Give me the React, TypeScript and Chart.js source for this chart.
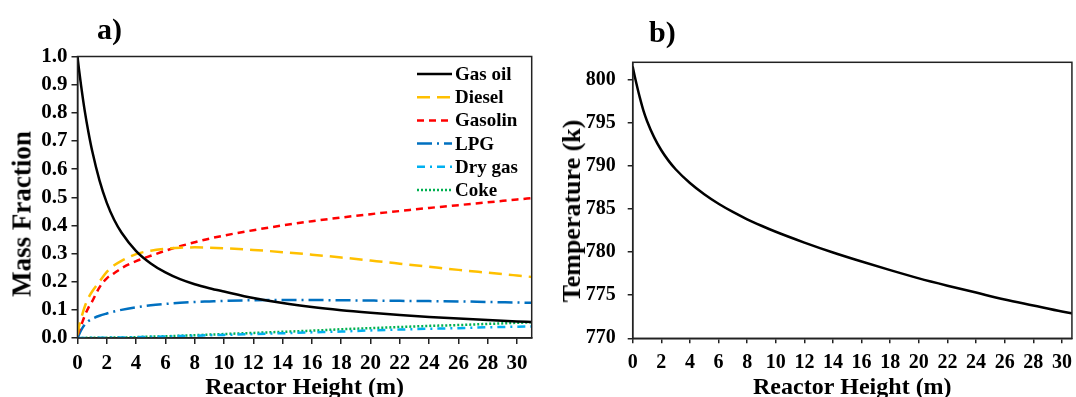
import React, { useEffect, useRef } from "react";
import { Chart, registerables } from "chart.js";
Chart.register(...registerables);

// ---------- data ----------
const heights = [0, 0.1, 0.25, 0.5, 0.75, 1, 1.5, 2, 2.5, 3, 4, 5, 6, 7, 8, 9, 10, 12, 14, 16, 18, 20, 22, 24, 26, 28, 30, 31];
const gasOil = [1.0, 0.955, 0.895, 0.805, 0.73, 0.665, 0.56, 0.48, 0.42, 0.375, 0.309, 0.265, 0.233, 0.209, 0.191, 0.177, 0.165, 0.142, 0.124, 0.11, 0.099, 0.09, 0.082, 0.075, 0.069, 0.064, 0.059, 0.057];
const diesel = [0.01, 0.04, 0.07, 0.112, 0.143, 0.165, 0.2, 0.235, 0.258, 0.274, 0.298, 0.31, 0.317, 0.321, 0.322, 0.321, 0.319, 0.313, 0.305, 0.296, 0.286, 0.275, 0.264, 0.253, 0.242, 0.232, 0.222, 0.217];
const gasolin = [0.01, 0.025, 0.045, 0.08, 0.108, 0.13, 0.18, 0.212, 0.23, 0.248, 0.273, 0.292, 0.31, 0.326, 0.34, 0.353, 0.364, 0.383, 0.4, 0.415, 0.428, 0.44, 0.451, 0.462, 0.472, 0.482, 0.492, 0.497];
const lpg = [0, 0.012, 0.028, 0.048, 0.06, 0.068, 0.079, 0.087, 0.094, 0.1, 0.109, 0.116, 0.121, 0.125, 0.128, 0.13, 0.132, 0.134, 0.135, 0.135, 0.134, 0.133, 0.132, 0.131, 0.13, 0.128, 0.126, 0.125];
const dryGas = [0, 0, 0, 0, 0.001, 0.001, 0.001, 0.001, 0.002, 0.002, 0.003, 0.004, 0.005, 0.007, 0.008, 0.01, 0.011, 0.014, 0.017, 0.02, 0.023, 0.027, 0.03, 0.033, 0.035, 0.038, 0.04, 0.041];
const coke = [0, 0, 0, 0, 0.001, 0.001, 0.001, 0.001, 0.002, 0.002, 0.003, 0.005, 0.006, 0.008, 0.01, 0.012, 0.014, 0.018, 0.022, 0.026, 0.031, 0.035, 0.039, 0.043, 0.046, 0.05, 0.054, 0.056];
const temperature = [801.5, 800.7, 799.6, 797.9, 796.4, 795.2, 793.3, 791.8, 790.6, 789.6, 788.0, 786.7, 785.6, 784.65, 783.8, 783.05, 782.35, 781.1, 779.95, 778.9, 777.9, 776.95, 776.1, 775.3, 774.5, 773.8, 773.1, 772.8];

const heightTicks = [0, 2, 4, 6, 8, 10, 12, 14, 16, 18, 20, 22, 24, 26, 28, 30];
const massTicks = [0, 0.1, 0.2, 0.3, 0.4, 0.5, 0.6, 0.7, 0.8, 0.9, 1.0];
const tempTicks = [770, 775, 780, 785, 790, 795, 800];

const seriesNames = ["Gas oil", "Diesel", "Gasolin", "LPG", "Dry gas", "Coke"];
const seriesValues = [gasOil, diesel, gasolin, lpg, dryGas, coke];
const seriesColors = ["#000000", "#FFC000", "#FF0000", "#0070C0", "#00B0F0", "#00B050"];
const seriesDashes: number[][] = [[], [13, 7], [7, 5], [15, 5, 2, 5], [8, 5, 2, 5], [2, 2]];

const FONT = '"Liberation Serif", "Times New Roman", serif';

const toPoints = (ys: number[]) => heights.map((x, i) => ({ x, y: ys[i] }));

const boxPlugin = {
  id: "boxBorder",
  afterDraw(chart: any) {
    const { ctx, chartArea } = chart;
    ctx.save();
    ctx.strokeStyle = "#222";
    ctx.lineWidth = 1.5;
    ctx.strokeRect(chartArea.left, chartArea.top, chartArea.right - chartArea.left, chartArea.bottom - chartArea.top);
    ctx.restore();
  },
};

const legendPlugin = {
  id: "insideLegend",
  afterDraw(chart: any) {
    const { ctx } = chart;
    ctx.save();
    chart.data.datasets.forEach((ds: any, i: number) => {
      const y = 74 + i * 23.2;
      ctx.beginPath();
      ctx.setLineDash(ds.borderDash || []);
      ctx.strokeStyle = ds.borderColor;
      ctx.lineWidth = ds.borderWidth;
      ctx.moveTo(417, y);
      ctx.lineTo(452, y);
      ctx.stroke();
      ctx.setLineDash([]);
      ctx.fillStyle = "#000";
      ctx.font = `bold 19px ${FONT}`;
      ctx.textBaseline = "middle";
      ctx.textAlign = "left";
      ctx.fillText(ds.label, 455, y + 1);
    });
    ctx.restore();
  },
};

function axisCommon(tickSize: number, tickLen: number, pad: number) {
  return {
    ticks: { font: { size: tickSize, weight: "bold" as const, family: FONT }, color: "#000", padding: pad, autoSkip: false, maxRotation: 0 },
    grid: { display: true, drawOnChartArea: false, drawTicks: true, tickLength: tickLen, color: "#222", lineWidth: 1.5 },
    border: { display: true, color: "#222", width: 1.5 },
  };
}

export default function App() {
  const leftRef = useRef<HTMLCanvasElement>(null);
  const rightRef = useRef<HTMLCanvasElement>(null);

  useEffect(() => {
    const left = new Chart(leftRef.current!, {
      type: "line",
      data: {
        datasets: seriesNames.map((name, i) => ({
          label: name,
          data: toPoints(seriesValues[i]),
          borderColor: seriesColors[i],
          backgroundColor: seriesColors[i],
          borderDash: seriesDashes[i],
          borderWidth: 2.5,
          pointRadius: 0,
          cubicInterpolationMode: "monotone" as const,
          fill: false,
        })),
      },
      options: {
        responsive: false,
        animation: false,
        layout: { padding: { left: 0, top: 56.5, right: 8.3, bottom: 0 } },
        plugins: { legend: { display: false }, tooltip: { enabled: false } },
        scales: {
          x: {
            type: "linear",
            min: 0,
            max: 31,
            ...axisCommon(21, 6, 7),
            afterBuildTicks: (s: any) => { s.ticks = heightTicks.map((v) => ({ value: v })); },
            afterFit: (s: any) => { s.height = 59; },
            title: { display: true, text: "Reactor Height (m)", color: "#000", padding: 0, font: { size: 24, weight: "bold", family: FONT, lineHeight: 0.8 } },
          },
          y: {
            type: "linear",
            min: 0,
            max: 1,
            ...axisCommon(21, 6, 4),
            afterBuildTicks: (s: any) => { s.ticks = massTicks.map((v) => ({ value: v })); },
            afterFit: (s: any) => { s.width = 77.5; },
            ticks: { ...axisCommon(21, 6, 4).ticks, callback: (v: any) => Number(v).toFixed(1) },
          },
        },
      },
      plugins: [boxPlugin, legendPlugin],
    } as any);

    const right = new Chart(rightRef.current!, {
      type: "line",
      data: {
        datasets: [
          {
            label: "Temperature",
            data: toPoints(temperature),
            borderColor: "#000",
            borderWidth: 2.5,
            pointRadius: 0,
            cubicInterpolationMode: "monotone" as const,
            fill: false,
          },
        ],
      },
      options: {
        responsive: false,
        animation: false,
        layout: { padding: { left: 0, top: 62.3, right: 3.9, bottom: 0 } },
        plugins: { legend: { display: false }, tooltip: { enabled: false } },
        scales: {
          x: {
            type: "linear",
            min: 0,
            max: 30.7,
            ...axisCommon(20, 5, 8),
            afterBuildTicks: (s: any) => { s.ticks = heightTicks.map((v) => ({ value: v })); },
            afterFit: (s: any) => { s.height = 58.7; },
            title: { display: true, text: "Reactor Height (m)", color: "#000", padding: 0, font: { size: 24, weight: "bold", family: FONT, lineHeight: 0.8 } },
          },
          y: {
            type: "linear",
            min: 770,
            max: 802,
            ...axisCommon(20, 5, 12),
            afterBuildTicks: (s: any) => { s.ticks = tempTicks.map((v) => ({ value: v })); },
            afterFit: (s: any) => { s.width = 92.7; },
          },
        },
      },
      plugins: [boxPlugin],
    } as any);

    return () => {
      left.destroy();
      right.destroy();
    };
  }, []);

  const labelStyle: React.CSSProperties = {
    position: "absolute",
    fontFamily: FONT,
    fontWeight: "bold",
    color: "#000",
    whiteSpace: "nowrap",
    lineHeight: 1,
  };

  return (
    <div style={{ position: "absolute", left: 0, top: 0, width: 1076, height: 397, overflow: "hidden", background: "#fff" }}>
      <canvas ref={leftRef} width={540} height={397} style={{ position: "absolute", left: 0, top: 0 }} />
      <canvas ref={rightRef} width={540} height={397} style={{ position: "absolute", left: 540, top: 0 }} />
      <div style={{ ...labelStyle, left: 97, top: 14, fontSize: 30 }}>a)</div>
      <div style={{ ...labelStyle, left: 649, top: 17, fontSize: 30 }}>b)</div>
      <div style={{ ...labelStyle, left: 22, top: 214, fontSize: 27, transform: "translate(-50%, -50%) rotate(-90deg)" }}>Mass Fraction</div>
      <div style={{ ...labelStyle, left: 572, top: 211, fontSize: 26, transform: "translate(-50%, -50%) rotate(-90deg)" }}>Temperature (k)</div>
    </div>
  );
}
